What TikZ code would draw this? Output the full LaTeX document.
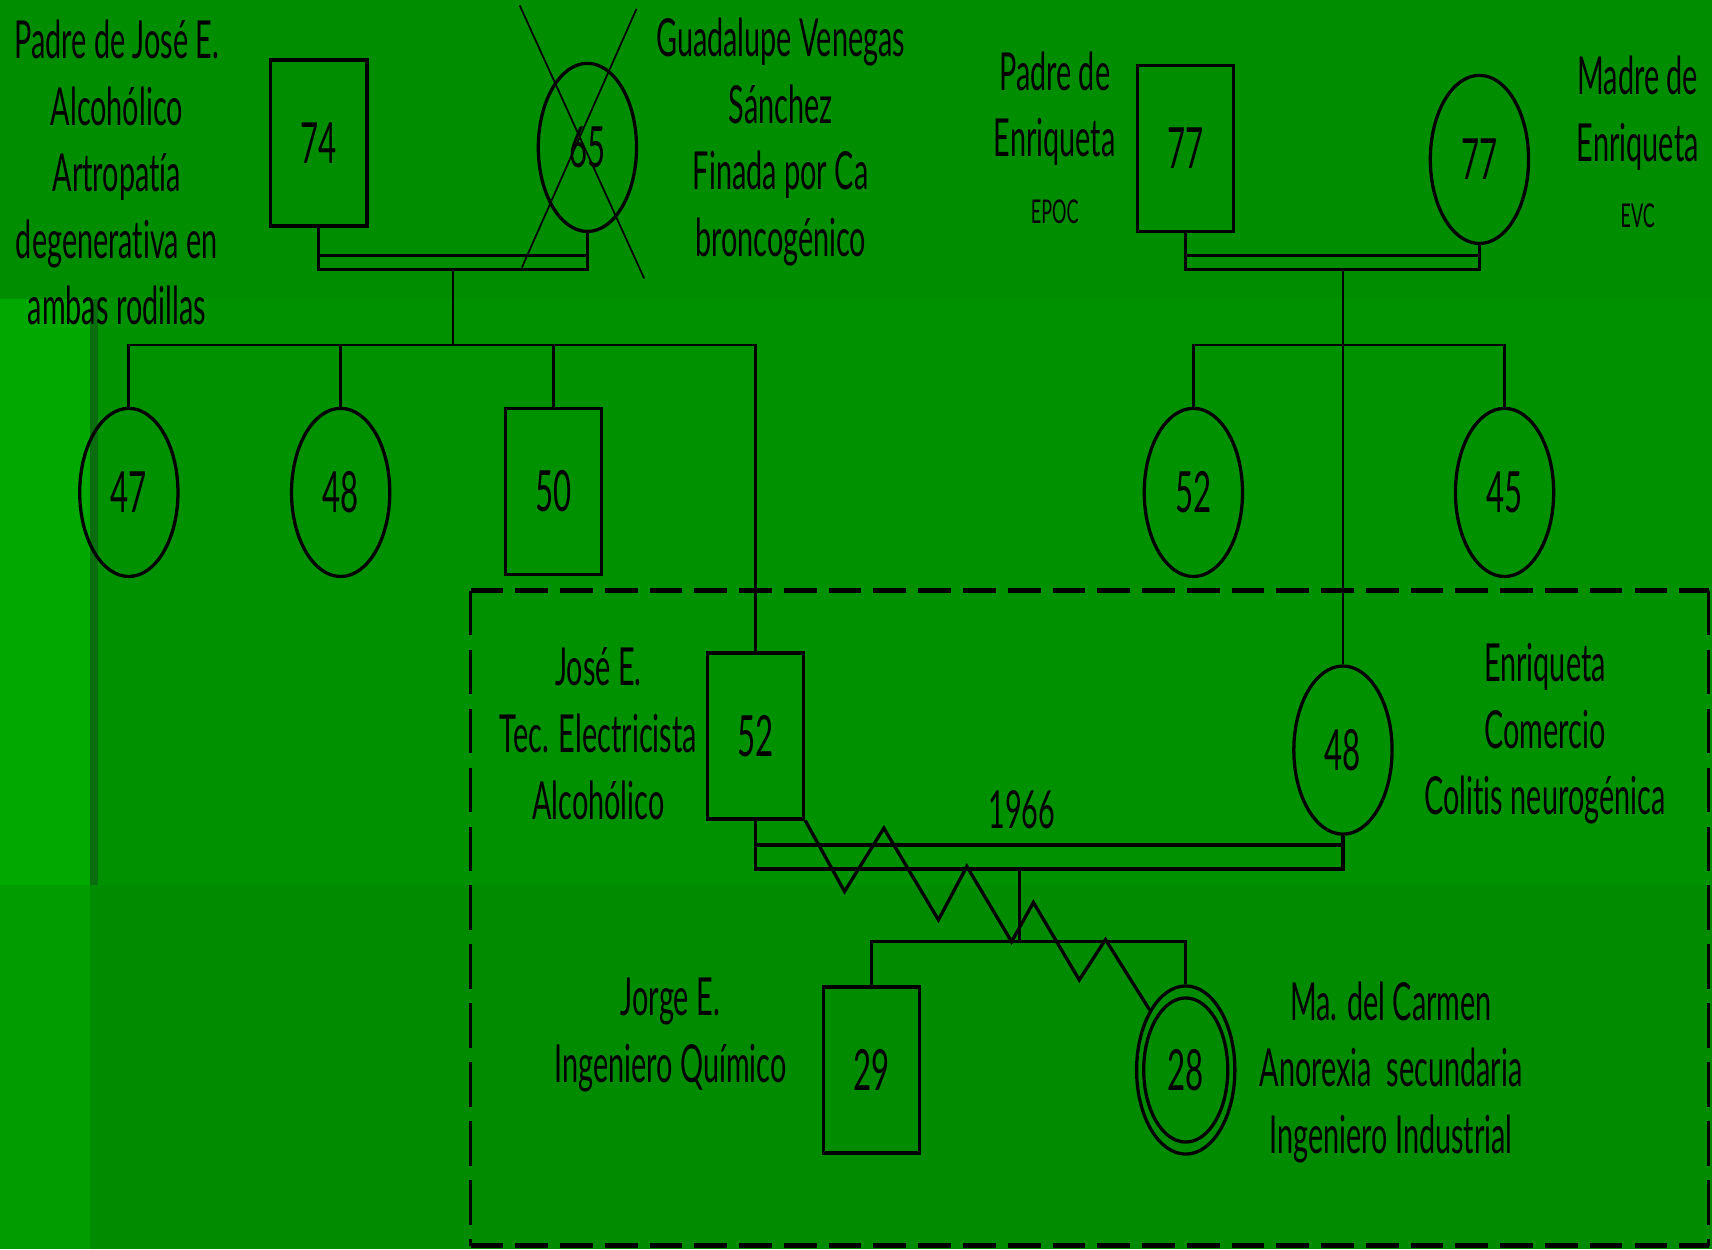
\documentclass[tikz,border=0pt]{standalone}
\usepackage{fontspec}
\setmainfont[FakeStretch=0.55, Ligatures=NoCommon]{Lato}
\usetikzlibrary{shapes.geometric}
\definecolor{bgtop}{HTML}{008E00}
\definecolor{bgmid}{HTML}{009100}
\definecolor{bglow}{HTML}{008B00}
\definecolor{stripmid}{HTML}{00A800}
\definecolor{striplow}{HTML}{009C00}
\definecolor{stripdark}{HTML}{0A6E0E}
\newcommand{\notefont}{\fontsize{48}{61}\selectfont}
\newcommand{\agefont}{\fontsize{52}{60}\selectfont}
\newcommand{\smallnote}{\fontsize{30}{36}\selectfont}

\begin{document}
\begin{tikzpicture}[x=1pt, y=-1pt,
    male/.style={draw, line width=3pt, minimum width=88pt, minimum height=152pt,
                 inner sep=0pt, font=\agefont},
    female/.style={draw, ellipse, line width=3pt, minimum width=90pt, minimum height=154pt,
                   inner sep=0pt, font=\agefont},
    note/.style={align=center, font=\notefont, inner sep=0pt},
    link/.style={line width=2.5pt},
    couple/.style={line width=3pt},
    conflict/.style={line width=3pt, line join=miter},
    deceased/.style={line width=1.6pt},
    frameh/.style={line width=4.5pt, dash pattern=on 30pt off 11pt},
    framev/.style={line width=3pt, dash pattern=on 41pt off 13pt}
  ]
  % background
  \useasboundingbox (0,0) rectangle (1568,1144);
  \fill[bgtop] (0,0) rectangle (1568,274);
  \fill[bgmid] (0,274) rectangle (1568,811);
  \fill[bglow] (0,811) rectangle (1568,1144);
  \fill[stripmid] (0,274) rectangle (82,811);
  \fill[striplow] (0,811) rectangle (82,1144);
  \fill[stripdark] (82,274) rectangle (90,811);

  % grandparents
  \node[male] (p74) at (292,131) {74};
  \node[female] (m65) at (538,135) {65};
  \node[male] (p77) at (1086,136) {77};
  \node[female] (m77) at (1355,146) {77};
  % uncles and aunts
  \node[female] (f47) at (118,451) {47};
  \node[female] (f48) at (312,451) {48};
  \node[male] (m50) at (507,450) {50};
  \node[female] (f52) at (1093,451) {52};
  \node[female] (f45) at (1378,451) {45};
  % family
  \node[male] (jose) at (692,674) {52};
  \node[female] (enri) at (1230,687) {48};
  \node[male] (jorge) at (798,980) {29};
  \node[female] (carmen) at (1086,980) {28};
  \node[female, minimum width=77pt, minimum height=132pt] (carmenin) at (carmen) {};

  % notes
  \node[note] (padreJ) at (107,158) {Padre de José E.\\Alcohólico\\Artropatía\\degenerativa en\\ambas rodillas};
  \node[note] (guad) at (715,130) {Guadalupe Venegas\\Sánchez\\Finada por Ca\\broncogénico};
  \node[note] (padreE) at (966,126) {Padre de\\Enriqueta\\{\smallnote EPOC}};
  \node[note] (madreE) at (1500,130) {Madre de\\Enriqueta\\{\smallnote EVC}};
  \node[note] (joseL) at (548,672) {José E.\\Tec. Electricista\\Alcohólico};
  \node[note] (enriL) at (1415,672) {Enriqueta\\Comercio\\Colitis neurogénica};
  \node[note] (jorgeL) at (614,948) {Jorge E.\\Ingeniero Químico};
  \node[note] (carmenL) at (1274,982) {Ma. del Carmen\\Anorexia\ \ secundaria\\Ingeniero Industrial};
  \node[note] (year) at (936,742) {1966};

  % deceased
  \draw[deceased, shift={(m65.center)}] (-62,-130) -- (52,120) (45,-127) -- (-60,110);

  % marriages
  \coordinate (barL) at (415,247);
  \coordinate (barLtop) at (415,234);
  \draw[couple] (p74.south) |- (m65.south |- barL) -- (m65.south);
  \draw[couple] (p74.south |- barLtop) -- (m65.south |- barLtop);
  \coordinate (barR) at (1222,247);
  \coordinate (barRtop) at (1222,234);
  \draw[couple] (p77.south) |- (m77.south |- barR) -- (m77.south);
  \draw[couple] (p77.south |- barRtop) -- (m77.south |- barRtop);
  \coordinate (barJ) at (934,796);
  \coordinate (barJtop) at (934,774);
  \draw[couple] (jose.south) |- (enri.south |- barJ) -- (enri.south);
  \draw[couple] (jose.south |- barJtop) -- (enri.south |- barJtop);

  % descent
  \coordinate (sibL) at (415,316);
  \draw[link] (barL) -- (sibL);
  \draw[link] (f47.north) |- (jose.north |- sibL) -- (jose.north);
  \draw[link] (f48.north) -- (f48.north |- sibL);
  \draw[link] (m50.north) -- (m50.north |- sibL);
  \coordinate (sibR) at (1230,316);
  \draw[link] (enri.north) -- (enri.north |- barR);
  \draw[link] (f52.north) |- (f45.north |- sibR) -- (f45.north);
  \coordinate (sibJ) at (934,862);
  \draw[link] (barJ) -- (sibJ);
  \draw[link] (jorge.north) |- (carmen.north |- sibJ) -- (carmen.north);

  % conflict
  \draw[conflict] (jose.south east) -- ++(36,65) -- ++(36,-58) -- ++(50,84) -- ++(26,-49)
    -- ++(41,69) -- ++(20,-36) -- ++(42,71) -- ++(24,-37) -- (carmen.121);

  % household
  \draw[frameh] (431,541) -- (1565,541);
  \draw[frameh] (431,1141) -- (1565,1141);
  \draw[framev] (431,541) -- (431,1141);
  \draw[framev] (1565,541) -- (1565,1141);
\end{tikzpicture}
\end{document}
